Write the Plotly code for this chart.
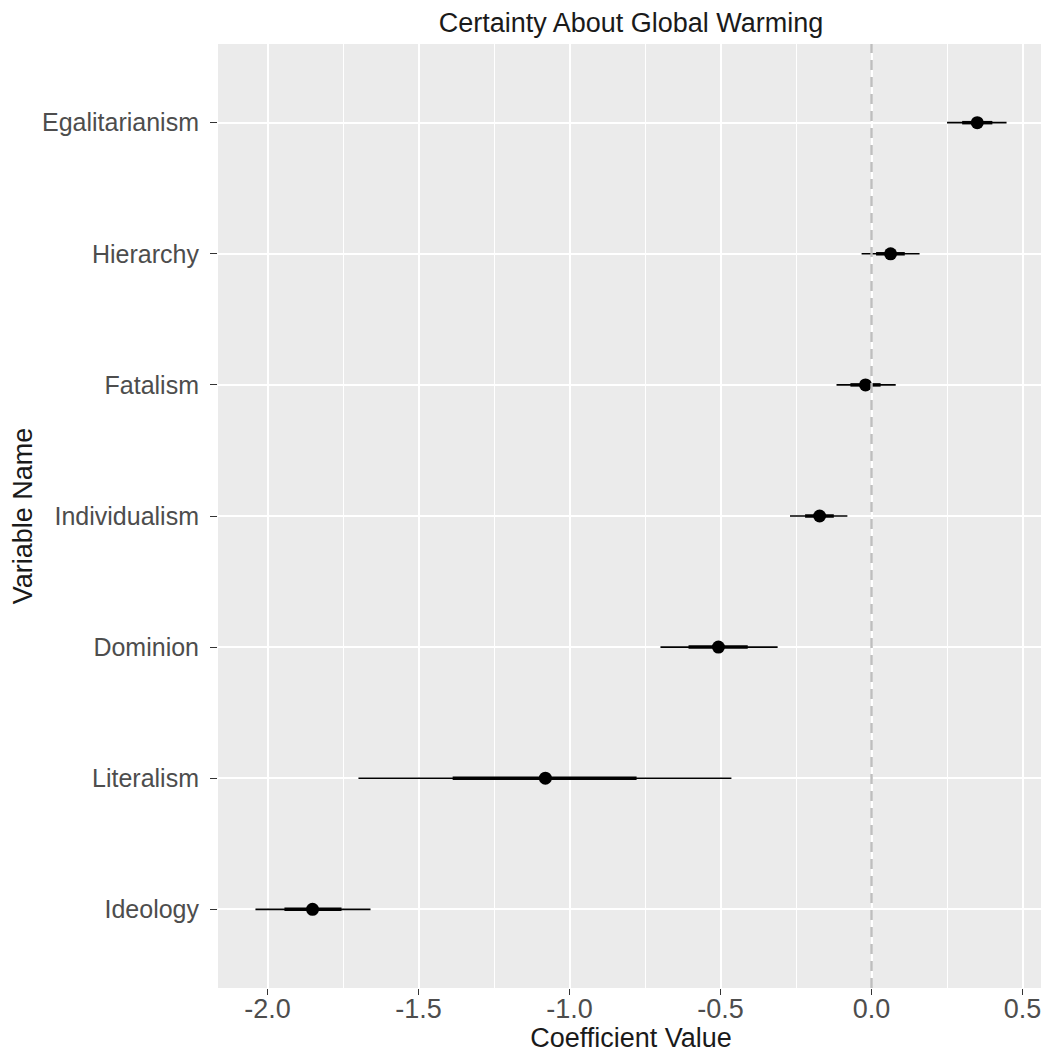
import plotly.graph_objects as go

variables = ["Ideology", "Literalism", "Dominion", "Individualism", "Fatalism", "Hierarchy", "Egalitarianism"]
coef = [-1.851, -1.08, -0.507, -0.172, -0.02, 0.063, 0.35]
inner_low = [-1.944, -1.387, -0.606, -0.22, -0.07, 0.015, 0.30]
inner_high = [-1.755, -0.778, -0.41, -0.125, 0.03, 0.11, 0.40]
outer_low = [-2.04, -1.699, -0.699, -0.27, -0.116, -0.033, 0.25]
outer_high = [-1.659, -0.464, -0.311, -0.08, 0.08, 0.159, 0.447]
x_ticks = [-2.0, -1.5, -1.0, -0.5, 0.0, 0.5]

FONT = "Liberation Sans, Arial, sans-serif"

def segs(lo, hi):
    xs, ys = [], []
    for a, b, v in zip(lo, hi, variables):
        xs += [a, b, None]
        ys += [v, v, None]
    return xs, ys

fig = go.Figure()
fig.add_vline(x=0, line=dict(color="#BEBEBE", width=2.4, dash="10px,7px"), layer="above")
ox, oy = segs(outer_low, outer_high)
fig.add_trace(go.Scatter(x=ox, y=oy, mode="lines", line=dict(color="black", width=1.6), showlegend=False, hoverinfo="skip"))
ix, iy = segs(inner_low, inner_high)
fig.add_trace(go.Scatter(x=ix, y=iy, mode="lines", line=dict(color="black", width=3.5), showlegend=False, hoverinfo="skip"))
fig.add_trace(go.Scatter(x=coef, y=variables, mode="markers", marker=dict(color="black", size=13), showlegend=False))

W, H = 1041, 1045
fig.update_layout(
    width=W, height=H,
    margin=dict(l=210, r=5, t=36, b=65),
    paper_bgcolor="white", plot_bgcolor="#EBEBEB",
    font=dict(family=FONT),
    title=dict(text="Certainty About Global Warming", x=0.5, xref="paper", xanchor="center",
               y=1 - 15/H, yanchor="middle", font=dict(size=27, color="#1A1A1A", family=FONT)),
)
fig.update_xaxes(
    range=[-2.164, 0.571], tickvals=x_ticks, ticktext=[f"{v:.1f}" for v in x_ticks],
    showgrid=True, gridcolor="white", gridwidth=1.6,
    minor=dict(dtick=0.25, tick0=-2.25, showgrid=True, gridcolor="white", gridwidth=0.7),
    zeroline=False, showline=False, automargin=False,
    ticks="outside", ticklen=6, tickcolor="#333333", tickwidth=1, ticklabelstandoff=-9,
    tickfont=dict(size=27, color="#4D4D4D", family=FONT),
    title=dict(text="Coefficient Value", font=dict(size=27, color="#1A1A1A", family=FONT), standoff=2),
)
fig.update_yaxes(
    categoryorder="array", categoryarray=variables, range=[-0.6, 6.6],
    showgrid=True, gridcolor="white", gridwidth=1.6,
    zeroline=False, showline=False, automargin=False,
    ticks="outside", ticklen=7, tickcolor="#333333", tickwidth=1, ticklabelstandoff=6,
    tickfont=dict(size=25, color="#4D4D4D", family=FONT),
    title=dict(text="Variable Name", font=dict(size=27, color="#1A1A1A", family=FONT), standoff=4),
)
fig.write_html("out.html")
